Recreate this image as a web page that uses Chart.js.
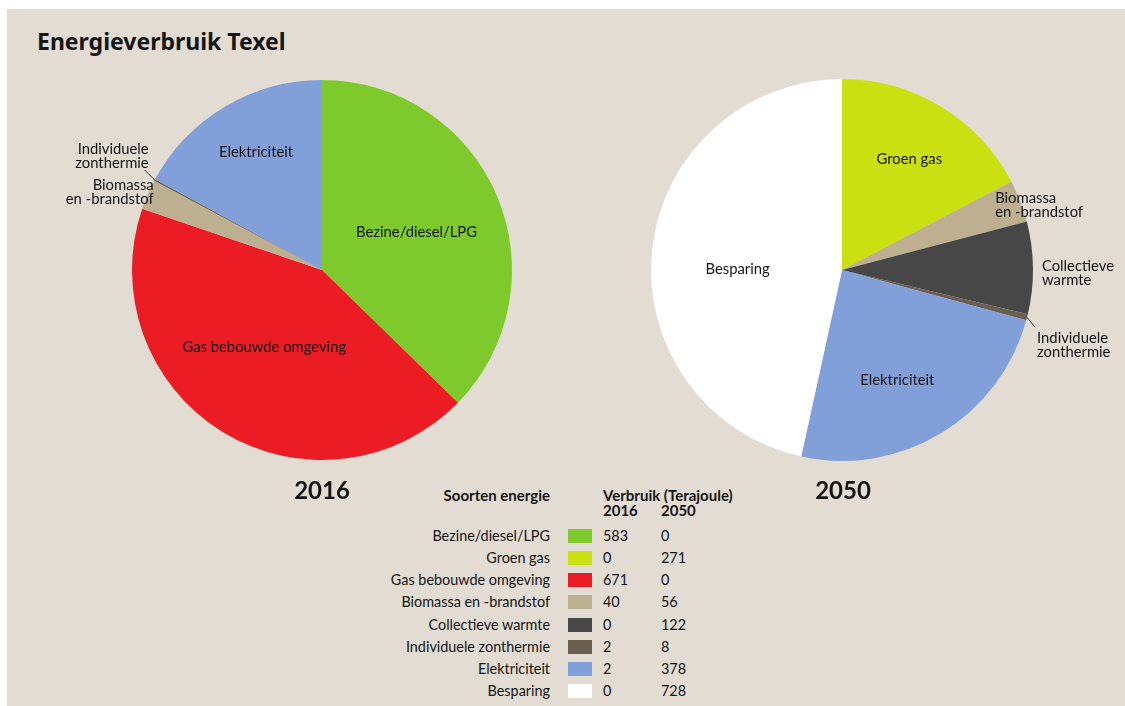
<!DOCTYPE html>
<html>
<head>
<meta charset="utf-8">
<script src="https://cdn.jsdelivr.net/npm/chart.js@4.4.1/dist/chart.umd.min.js"></script>
<style>
  body { margin: 0; width: 1125px; height: 706px; background: #fff; position: relative; overflow: hidden; font-family: Lato, "Noto Sans", sans-serif; color: #151515; }
  #panel { position: absolute; left: 7px; top: 9px; right: 0; bottom: 0; background: #e2dcd3; }
  .abs { position: absolute; white-space: nowrap; }
  #title { left: 37px; top: 28px; font-family: "Noto Sans", sans-serif; font-size: 23px; line-height: 26px; font-weight: bold; }
  .year { font-size: 24px; line-height: 24px; font-weight: bold; width: 100px; text-align: center; top: 478px; }
  .hdr { font-size: 15px; font-weight: bold; line-height: 16px; }
  .cell { font-size: 14.4px; line-height: 18px; height: 18px; }
  .swatch { position: absolute; width: 24px; height: 14px; }
  .chartbox { position: absolute; }
</style>
</head>
<body>
<div id="panel"></div>
<div class="abs" id="title">Energieverbruik Texel</div>
<div class="chartbox" style="left:20px; top:60px; width:560px; height:420px;"><canvas id="pie2016"></canvas></div>
<div class="chartbox" style="left:600px; top:60px; width:525px; height:420px;"><canvas id="pie2050"></canvas></div>
<div class="abs year" style="left:272px;">2016</div>
<div class="abs year" style="left:793px;">2050</div>
<div class="abs hdr" style="right:575px; top:487px;">Soorten energie</div>
<div class="abs hdr" style="left:603px; top:487px;">Verbruik (Terajoule)</div>
<div class="abs hdr" style="left:603px; top:502px;">2016</div>
<div class="abs hdr" style="left:661px; top:502px;">2050</div>
<div id="table"></div>

<script>
// categories as listed in the legend table
const categories = ['Bezine/diesel/LPG', 'Groen gas', 'Gas bebouwde omgeving', 'Biomassa en -brandstof',
  'Collectieve warmte', 'Individuele zonthermie', 'Elektriciteit', 'Besparing'];
// text used on / next to the slices
const sliceNames = ['Bezine/diesel/LPG', 'Groen gas', 'Gas bebouwde omgeving', 'Biomassa\nen -brandstof',
  'Collectieve\nwarmte', 'Individuele\nzonthermie', 'Elektriciteit', 'Besparing'];
const colors = ['#7ec92b', '#cbe010', '#ec1c24', '#bdb091', '#474747', '#6b5f52', '#819fd8', '#ffffff'];

// values as printed in the table (Terajoule)
const table2016 = [583, 0, 671, 40, 0, 2, 2, 0];
const table2050 = [0, 271, 0, 56, 122, 8, 378, 728];
// slice sizes (the 2016 electricity slice is ~267, not the printed 2)
const pie2016 = [583, 0, 671, 40, 0, 2, 267, 0];
const pie2050 = [0, 271, 0, 56, 122, 8, 378, 728];

// where each slice label goes (r = fraction of radius for inside labels)
const labelPlan2016 = {
  0: { r: 0.54, dy: 2 },
  2: { r: 0.5, dx: -8, dy: -4 },
  3: { out: true, align: 'right', dx: 6, dy: -2 },
  5: { out: true, align: 'right', dx: -6, dy: -24, leader: [-10, -10] },
  6: { r: 0.71, dx: 3, dy: -2 }
};
const labelPlan2050 = {
  1: { r: 0.68 },
  3: { out: true, align: 'left', dx: -25, dy: 4 },
  4: { out: true, align: 'left', dx: 9, dy: 5 },
  5: { out: true, align: 'left', dx: 10, dy: 28, leader: [8, 10] },
  6: { r: 0.64, dx: -8, dy: 6 },
  7: { r: 0.55, dy: 11 }
};

function sliceLabelPlugin(plan) {
  return {
    id: 'sliceLabels',
    afterDatasetsDraw(chart) {
      const ctx = chart.ctx;
      const arcs = chart.getDatasetMeta(0).data;
      ctx.save();
      ctx.font = '14.8px Lato, "Noto Sans", sans-serif';
      ctx.fillStyle = '#151515';
      ctx.strokeStyle = '#333';
      ctx.lineWidth = 1;
      ctx.textBaseline = 'middle';
      Object.keys(plan).forEach(k => {
        const i = Number(k);
        const p = plan[i];
        const arc = arcs[i];
        const mid = (arc.startAngle + arc.endAngle) / 2;
        const lines = sliceNames[i].split('\n');
        const lh = 14;
        let x, y;
        if (p.out) {
          const ex = arc.x + Math.cos(mid) * arc.outerRadius;
          const ey = arc.y + Math.sin(mid) * arc.outerRadius;
          if (p.leader) {
            ctx.beginPath();
            ctx.moveTo(ex, ey);
            ctx.lineTo(ex + p.leader[0], ey + p.leader[1]);
            ctx.stroke();
          }
          x = ex + p.dx;
          y = ey + p.dy;
          ctx.textAlign = p.align;
        } else {
          x = arc.x + Math.cos(mid) * arc.outerRadius * p.r + (p.dx || 0);
          y = arc.y + Math.sin(mid) * arc.outerRadius * p.r + (p.dy || 0);
          ctx.textAlign = 'center';
        }
        const top = y - (lines.length - 1) * lh / 2;
        lines.forEach((t, j) => ctx.fillText(t, x, top + j * lh));
      });
      ctx.restore();
    }
  };
}

function makePie(id, values, plan, padding) {
  return new Chart(document.getElementById(id), {
    type: 'pie',
    data: {
      labels: categories,
      datasets: [{
        data: values,
        backgroundColor: colors,
        borderWidth: 0
      }]
    },
    options: {
      responsive: true,
      maintainAspectRatio: false,
      animation: false,
      layout: { padding: padding },
      plugins: {
        legend: { display: false },
        tooltip: { enabled: false }
      }
    },
    plugins: [sliceLabelPlugin(plan)]
  });
}

makePie('pie2016', pie2016, labelPlan2016, { left: 112, right: 68, top: 20, bottom: 20 });
makePie('pie2050', pie2050, labelPlan2050, { left: 51, right: 92, top: 19, bottom: 19 });

// legend table
const table = document.getElementById('table');
categories.forEach((name, i) => {
  const cy = 536 + i * 22.15;
  const rowTop = cy - 9;
  table.insertAdjacentHTML('beforeend',
    `<div class="abs cell" style="right:575px; top:${rowTop}px;">${name}</div>` +
    `<div class="swatch" style="left:568px; top:${cy - 7}px; background:${colors[i]};"></div>` +
    `<div class="abs cell" style="left:603px; top:${rowTop}px;">${table2016[i]}</div>` +
    `<div class="abs cell" style="left:661px; top:${rowTop}px;">${table2050[i]}</div>`);
});
</script>
</body>
</html>
